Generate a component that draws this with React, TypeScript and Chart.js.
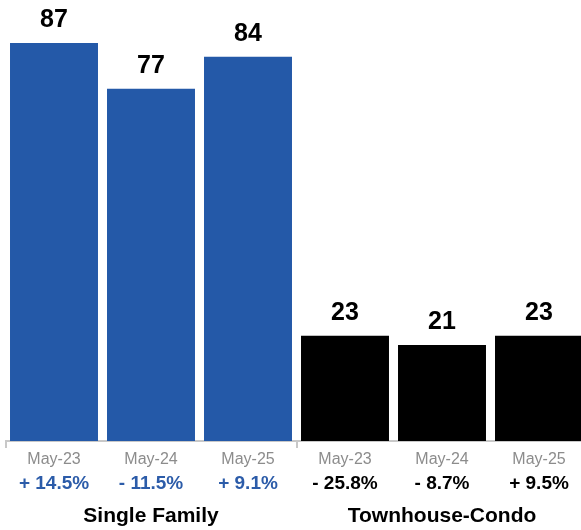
import React, { useEffect, useRef } from 'react';
import { Chart, registerables } from 'chart.js';

Chart.register(...registerables);

const categories = ['May-23', 'May-24', 'May-25', 'May-23', 'May-24', 'May-25'];
const values = [87, 77, 84, 23, 21, 23];
const changes = ['+ 14.5%', '- 11.5%', '+ 9.1%', '- 25.8%', '- 8.7%', '+ 9.5%'];
const groups = ['Single Family', 'Townhouse-Condo'];
const groupOf = [0, 0, 0, 1, 1, 1];

const barColors = ['#2459a8', '#000000'];
const changeColors = ['#2c5ca9', '#000000'];
const FONT = '"Liberation Sans", Arial, Helvetica, sans-serif';

const valueLabels = {
  id: 'valueLabels',
  afterDatasetsDraw(chart: any) {
    const ctx = chart.ctx;
    const meta = chart.getDatasetMeta(0);
    ctx.save();
    ctx.font = `bold 25px ${FONT}`;
    ctx.fillStyle = '#000000';
    ctx.textAlign = 'center';
    ctx.textBaseline = 'alphabetic';
    meta.data.forEach((bar: any, i: number) => {
      ctx.fillText(String(values[i]), bar.x, bar.y - 16);
    });
    ctx.restore();
  },
};

export default function App() {
  const ref = useRef<HTMLCanvasElement | null>(null);

  useEffect(() => {
    document.body.style.margin = '0';
    document.body.style.overflow = 'hidden';
    const canvas = ref.current;
    if (!canvas) return;
    const chart = new Chart(canvas, {
      type: 'bar',
      data: {
        labels: categories,
        datasets: [
          {
            data: values,
            backgroundColor: groupOf.map((g) => barColors[g]),
            barPercentage: 0.907,
            categoryPercentage: 1,
            xAxisID: 'x',
            yAxisID: 'y',
          },
        ],
      },
      options: {
        responsive: false,
        animation: false,
        devicePixelRatio: 1,
        layout: { padding: { left: 5.5, right: 0.5, top: 0, bottom: 0 } },
        plugins: {
          legend: { display: false },
          tooltip: { enabled: false },
        },
        scales: {
          x: {
            type: 'category',
            position: 'bottom',
            offset: true,
            weight: 0,
            grid: {
              display: true,
              offset: true,
              drawOnChartArea: false,
              drawTicks: true,
              tickLength: 7,
              lineWidth: 2,
              color: (c: any) =>
                c.index === undefined || c.index % 3 === 0 ? '#c8c8c8' : 'rgba(0,0,0,0)',
            },
            border: { display: true, color: '#c8c8c8', width: 2 },
            ticks: {
              color: '#8c8c8c',
              font: { family: FONT, size: 16 },
              padding: 2,
              maxRotation: 0,
              autoSkip: false,
            },
            afterFit: (s: any) => {
              s.height = 28;
            },
          },
          x2: {
            type: 'category',
            position: 'bottom',
            offset: true,
            weight: 1,
            labels: changes,
            grid: { display: false, drawTicks: false },
            border: { display: false },
            ticks: {
              color: (c: any) => changeColors[groupOf[c.index] ?? 0],
              font: { family: FONT, size: 19, weight: 'bold' },
              padding: 3,
              maxRotation: 0,
              autoSkip: false,
            },
            afterFit: (s: any) => {
              s.height = 28;
            },
          },
          x3: {
            type: 'category',
            position: 'bottom',
            offset: true,
            weight: 2,
            labels: groups,
            grid: { display: false, drawTicks: false },
            border: { display: false },
            ticks: {
              color: '#000000',
              font: { family: FONT, size: 21, weight: 'bold' },
              padding: 7,
              maxRotation: 0,
              autoSkip: false,
            },
            afterFit: (s: any) => {
              s.height = 33;
            },
          },
          y: {
            display: false,
            min: 0,
            max: 96.4,
          },
        },
      } as any,
      plugins: [valueLabels],
    });
    return () => chart.destroy();
  }, []);

  return (
    <div style={{ position: 'absolute', left: 0, top: 0, width: 581, height: 530, overflow: 'hidden', background: '#ffffff' }}>
      <canvas ref={ref} width={588} height={530} style={{ display: 'block' }} />
    </div>
  );
}
